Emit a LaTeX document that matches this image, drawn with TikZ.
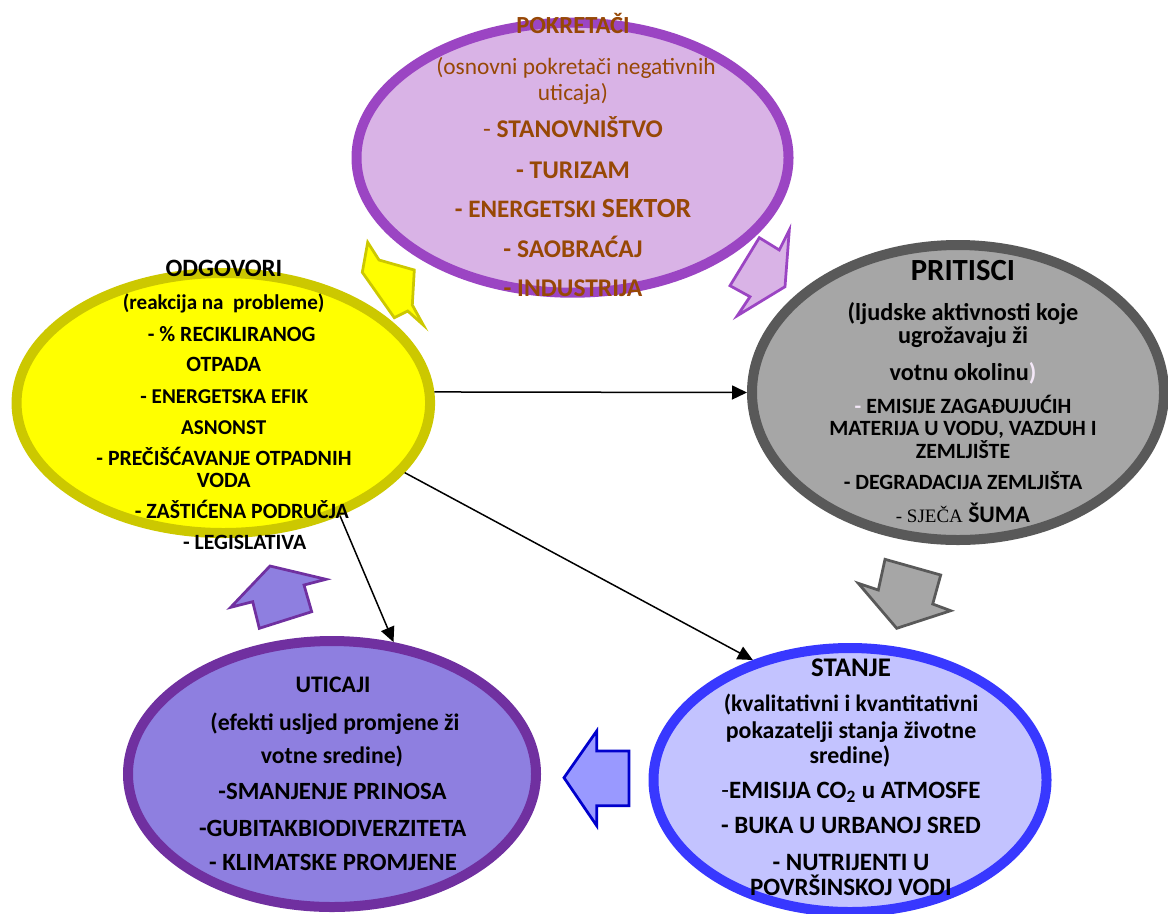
\documentclass[tikz,border=0pt]{standalone}
\usepackage{fontspec}
\setmainfont{Carlito}
\newfontfamily\serifcaps{Liberation Serif}
\usetikzlibrary{shapes.geometric}
\usetikzlibrary{arrows.meta}

\definecolor{pokFill}{HTML}{D9B3E6}
\definecolor{pokLine}{HTML}{9B45C3}
\definecolor{pokText}{HTML}{974806}
\definecolor{priFill}{HTML}{A6A6A6}
\definecolor{priLine}{HTML}{595959}
\definecolor{odgFill}{HTML}{FFFF00}
\definecolor{odgLine}{HTML}{CCC800}
\definecolor{utiFill}{HTML}{8E7FE0}
\definecolor{utiLine}{HTML}{7030A0}
\definecolor{staFill}{HTML}{C3C3FF}
\definecolor{staLine}{HTML}{3838FF}
\definecolor{arrFill}{HTML}{9999FF}
\definecolor{arrLine}{HTML}{0000CC}

\newcommand\sz[1]{\fontsize{#1}{#1}\selectfont}

\tikzset{
  ring/.style={ellipse, line width=2mm, inner sep=0pt},
  blk/.style={line width=0.55mm, line join=miter},
  lbl/.style={anchor=base, inner sep=0pt, font=\sz{12.4}\bfseries},
  link/.style={->, line width=0.3mm},
}

\begin{document}
\begin{tikzpicture}[x=0.2mm, y=-0.2mm, >={Triangle[length=3mm,width=2.8mm]}]
\useasboundingbox (0,0) rectangle (1168,913);

% the five rings
\node[ring, fill=pokFill, draw=pokLine, minimum width=86.4mm, minimum height=54mm] (pok) at (572.5,157.7) {};
\node[ring, fill=priFill, draw=priLine, minimum width=82.4mm, minimum height=59mm] (pri) at (958,392.5) {};
\node[ring, fill=odgFill, draw=odgLine, minimum width=82.7mm, minimum height=52mm] (odg) at (223.3,403) {};
\node[ring, fill=utiFill, draw=utiLine, minimum width=81.6mm, minimum height=53.2mm] (uti) at (332,774) {};
\node[ring, fill=staFill, draw=staLine, minimum width=78.6mm, minimum height=52.8mm] (sta) at (850,780) {};

% block arrows round the cycle
\draw[blk, fill=odgFill, draw=odgLine] (367.7,242.3) -- (379,260) -- (414.3,270) -- (412.3,305)
  -- (423.3,325) -- (407.7,311) -- (394.3,317.7) -- (362.3,272.3) -- cycle;
\draw[blk, fill=pokFill, draw=pokLine] (789.3,230) -- (779.3,250) -- (759.3,237.7) -- (730,285.7)
  -- (750,296.7) -- (737.3,315.7) -- (785,286.7) -- cycle;
\draw[blk, fill=priFill, draw=priLine] (885,559.3) -- (940.7,575) -- (932.7,604) -- (950.7,610.7)
  -- (896.7,628.3) -- (858.3,583.3) -- (878.3,590) -- cycle;
\draw[blk, fill=arrFill, draw=arrLine] (564,777.7) -- (596.7,731) -- (596.7,751) -- (629,751)
  -- (629,805.7) -- (596.7,805.7) -- (596.7,825.7) -- cycle;
\draw[blk, fill=utiFill, draw=utiLine] (270,566) -- (326,579.3) -- (304,585) -- (311.7,611.7)
  -- (259.3,628.3) -- (252.7,601.7) -- (230.7,607.3) -- cycle;

% POKRETACI
\node[lbl, text=pokText, font=\sz{14}\bfseries] (pok-t) at (573,33) {POKRETAČI};
\node[lbl, text=pokText, font=\sz{13.3}] (pok-a) at (576,74) {(osnovni pokretači negativnih};
\node[lbl, text=pokText, font=\sz{13.3}] (pok-b) at (573,100) {uticaja)};
\node[lbl, text=pokText, font=\sz{14.5}\bfseries] (pok-1) at (573,137.7) {{\mdseries -} STANOVNIŠTVO};
\node[lbl, text=pokText, font=\sz{14.5}\bfseries] (pok-2) at (573,178.3) {- TURIZAM};
\node[lbl, text=pokText, font=\sz{14.3}\bfseries] (pok-3) at (573,217.3) {- ENERGETSKI {\sz{15.8}SEKTOR}};
\node[lbl, text=pokText, font=\sz{14.5}\bfseries] (pok-4) at (573,257.7) {- SAOBRAĆAJ};
\node[lbl, text=pokText, font=\sz{14.5}\bfseries] (pok-5) at (573,296.7) {- INDUSTRIJA};

% PRITISCI
\node[lbl, font=\sz{17.5}\bfseries] (pri-t) at (963,280.7) {PRITISCI};
\node[lbl, font=\sz{13.8}\bfseries] (pri-a) at (963,320) {(ljudske aktivnosti koje};
\node[lbl, font=\sz{13.8}\bfseries] (pri-b) at (963,343.3) {ugrožavaju ži};
\node[lbl, font=\sz{13.8}\bfseries] (pri-c) at (963,380.7) {votnu okolinu\textcolor{pokFill!30}{)}};
\node[lbl] (pri-1) at (963,413.3) {\textcolor{pokFill!30}{-} EMISIJE ZAGAĐUJUĆIH};
\node[lbl] (pri-2) at (963,435) {MATERIJA U VODU, VAZDUH I};
\node[lbl] (pri-3) at (963,458.3) {ZEMLJIŠTE};
\node[lbl] (pri-4) at (963,489.3) {- DEGRADACIJA ZEMLJIŠTA};
\node[lbl, font=\sz{13.5}\bfseries] (pri-5) at (963,522.7) {{\serifcaps\mdseries\sz{10.8}- SJEČA} ŠUMA};

% ODGOVORI
\node[lbl, font=\sz{14.2}\bfseries] (odg-t) at (224,276.7) {ODGOVORI};
\node[lbl, font=\sz{12}\bfseries] (odg-a) at (223.7,309.3) {(reakcija na\ \ probleme)};
\node[lbl] (odg-1) at (231.7,341) {- \% RECIKLIRANOG};
\node[lbl] (odg-2) at (223.7,371.7) {OTPADA};
\node[lbl, font=\sz{12}\bfseries] (odg-3) at (224.3,403.3) {- ENERGETSKA EFIK};
\node[lbl, font=\sz{12}\bfseries] (odg-4) at (223.7,434) {ASNONST};
\node[lbl] (odg-5) at (224,465.7) {- PREČIŠĆAVANJE OTPADNIH};
\node[lbl] (odg-6) at (223.7,487.3) {VODA};
\node[lbl] (odg-7) at (241.8,518.3) {- ZAŠTIĆENA PODRUČJA};
\node[lbl] (odg-8) at (244.7,549.3) {- LEGISLATIVA};

% UTICAJI
\node[lbl, font=\sz{13.5}\bfseries] (uti-t) at (333,692.7) {UTICAJI};
\node[lbl, font=\sz{13.5}\bfseries] (uti-a) at (335,730) {(efekti usljed promjene ži};
\node[lbl, font=\sz{13.5}\bfseries] (uti-b) at (332,763.3) {votne sredine)};
\node[lbl, font=\sz{14.1}\bfseries] (uti-1) at (332.5,799.3) {-SMANJENJE PRINOSA};
\node[lbl, font=\sz{14.1}\bfseries] (uti-2) at (332.7,836) {-GUBITAKBIODIVERZITETA};
\node[lbl, font=\sz{14.1}\bfseries] (uti-3) at (333,870.7) {- KLIMATSKE PROMJENE};

% STANJE
\node[lbl, font=\sz{15.3}\bfseries] (sta-t) at (851,676.7) {STANJE};
\node[lbl, font=\sz{13.4}\bfseries] (sta-a) at (851,711.7) {(kvalitativni i kvantitativni};
\node[lbl, font=\sz{13.6}\bfseries] (sta-b) at (851,738.3) {pokazatelji stanja životne};
\node[lbl, font=\sz{13.6}\bfseries] (sta-c) at (850,763.3) {sredine)};
\node[lbl, font=\sz{14.2}\bfseries] (sta-1) at (851,798.3) {{\mdseries-}EMISIJA CO\textsubscript{2} u ATMOSFE};
\node[lbl, font=\sz{14.2}\bfseries] (sta-2) at (851,833.3) {- BUKA U URBANOJ SRED};
\node[lbl, font=\sz{14.2}\bfseries] (sta-3) at (851,870) {- NUTRIJENTI U};
\node[lbl, font=\sz{14.2}\bfseries] (sta-4) at (851,895) {POVRŠINSKOJ VODI};

% responses acting on the others
\draw[link] (odg.3) -- (pri.180);
\draw[link] (odg.-21) -- (sta.129);
\draw[link] (odg.-44) -- (uti.65);
\end{tikzpicture}
\end{document}
